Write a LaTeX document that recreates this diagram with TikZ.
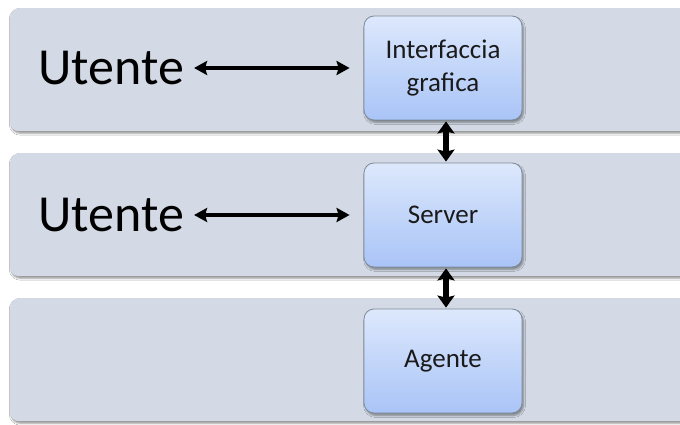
\documentclass[tikz,border=0pt]{standalone}
\usepackage{fontspec}
\setmainfont{Carlito}
\usetikzlibrary{arrows.meta,shadows.blur}
\definecolor{bandfill}{HTML}{D3DAE5}
\definecolor{boxtop}{HTML}{DDE8FC}
\definecolor{boxbot}{HTML}{A9C4F7}
\definecolor{boxline}{HTML}{7F8A99}
\definecolor{txt}{HTML}{1A1A1A}
\tikzset{
  band/.style={fill=bandfill, rounded corners=9pt, draw=none,
    blur shadow={shadow xshift=1pt, shadow yshift=-2pt, shadow blur steps=4, shadow opacity=45}},
  layerbox/.style={draw=boxline, line width=0.8pt, rounded corners=10pt,
    top color=boxtop, bottom color=boxbot, minimum width=158pt, minimum height=104pt,
    inner sep=0pt, align=center, text=txt, font=\fontsize{27}{33}\selectfont,
    blur shadow={shadow xshift=1.5pt, shadow yshift=-2.5pt, shadow blur steps=5, shadow opacity=40}},
  usertext/.style={inner sep=0pt, text=black, font=\fontsize{52}{54}\selectfont},
  harrow/.style={line width=3.4pt, {Stealth[length=13pt,width=14pt,inset=2pt]}-{Stealth[length=13pt,width=14pt,inset=2pt]}},
  varrow/.style={line width=5.5pt, {Stealth[length=12pt,width=17pt,inset=2pt]}-{Stealth[length=12pt,width=17pt,inset=2pt]}}
}
\begin{document}
\begin{tikzpicture}[x=1pt,y=-1pt]
\useasboundingbox (0,0) rectangle (680,425);
\fill[white] (0,0) rectangle (680,425);
% bands
\node[band, minimum width=700pt, minimum height=123pt, anchor=north west] (band1) at (10,8) {};
\node[band, minimum width=700pt, minimum height=123pt, anchor=north west] (band2) at (10,153) {};
\node[band, minimum width=700pt, minimum height=123pt, anchor=north west] (band3) at (10,298) {};
% boxes
\node[layerbox] (gui) at (443,68) {Interfaccia\\grafica};
\node[layerbox] (server) at (443,215) {Server};
\node[layerbox] (agent) at (443,361) {Agente};
% users
\node[usertext, anchor=west] (u1) at (38,68) {Utente};
\node[usertext, anchor=west] (u2) at (38,215) {Utente};
% arrows
\draw[harrow, shorten <=10pt, shorten >=14pt] (u1.east |- gui.west) -- (gui.west);
\draw[harrow, shorten <=10pt, shorten >=14pt] (u2.east |- server.west) -- (server.west);
\draw[varrow, shorten <=1pt, shorten >=1pt] ([xshift=3pt]gui.south) -- ([xshift=3pt]server.north);
\draw[varrow, shorten <=1pt, shorten >=1pt] ([xshift=3pt]server.south) -- ([xshift=3pt]agent.north);
\end{tikzpicture}
\end{document}
